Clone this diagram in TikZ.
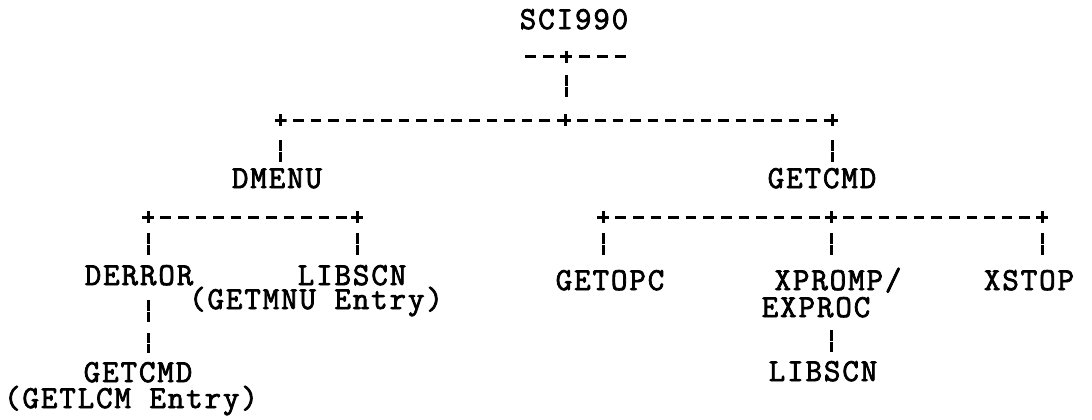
\documentclass[tikz,border=0pt]{standalone}
\usepackage{fontspec}
\newfontfamily\tw{Latin Modern Mono}[FakeBold=2.4,LetterSpace=6]
\begin{document}
\begin{tikzpicture}[x=0.5pt,y=-0.5pt,
  lbl/.style={font=\tw\fontsize{16pt}{16pt}\selectfont, inner sep=0pt, anchor=base},
  jn/.style={minimum size=6pt, inner sep=0pt,
    path picture={\draw[line width=1.5pt]
      (path picture bounding box.north) -- (path picture bounding box.south)
      (path picture bounding box.west) -- (path picture bounding box.east);}},
  hrow/.style={line width=1.5pt, dash pattern=on 5.3pt off 3.5pt, dash phase=2.65pt},
  stub/.style={line width=1.5pt, dash pattern=on 5.5pt off 3.5pt, dash phase=2.75pt},
  bar/.style={line width=1.5pt, dash pattern=on 5.25pt off 0.6pt on 5.15pt off 60pt},
  bartwo/.style={line width=1.5pt, dash pattern=on 5.25pt off 0.6pt on 5.15pt off 5.5pt on 5pt off 0.6pt on 4.4pt off 60pt}]
\useasboundingbox (0,0) rectangle (1092,419);

% level 0
\node[lbl] (sci) at (574,29) {SCI990};
\node[jn] (a0) at (566,56.7) {};
\coordinate (a0l) at (521,56.7);
\coordinate (a0r) at (628,56.7);
\draw[stub] (a0.center) -- (a0l);
\draw[stub] (a0.center) -- (a0r);

% level 1 row
\node[jn] (a1) at (280.7,120) {};
\node[jn] (a2) at (565,120) {};
\node[jn] (a3) at (832,120) {};
\draw[hrow] (a1.center) -- (a2.center);
\draw[hrow] (a2.center) -- (a3.center);
\draw[bar, shorten <=9.15pt] (a0.center) -- (a0.center |- a2.center);

\node[lbl] (dmenu) at (277,188) {DMENU};
\node[lbl] (getcmdA) at (822,188) {GETCMD};
\draw[bar, shorten <=10pt] (a1.center) -- (a1.center |- dmenu.base);
\draw[bar, shorten <=10pt] (a3.center) -- (a3.center |- getcmdA.base);

% level 2 rows
\node[jn] (b1) at (148,217) {};
\node[jn] (b2) at (357,217) {};
\draw[hrow] (b1.center) -- (b2.center);

\node[jn] (c1) at (603,217) {};
\node[jn] (c2) at (831,217) {};
\node[jn] (c3) at (1042,217) {};
\draw[hrow] (c1.center) -- (c2.center);
\draw[hrow] (c2.center) -- (c3.center);

\node[lbl] (derror) at (139,285) {DERROR};
\node[lbl] (libscnA) at (352,285) {LIBSCN};
\node[lbl] (getmnu) at (316,309) {(GETMNU Entry)};
\node[lbl] (getopc) at (610,290) {GETOPC};
\node[lbl] (xpromp) at (838,290) {XPROMP/};
\node[lbl] (exproc) at (816,317) {EXPROC};
\node[lbl] (xstop) at (1029,290) {XSTOP};

\draw[bar, shorten <=8pt] (b1.center) -- (b1.center |- derror.base);
\draw[bar, shorten <=8pt] (b2.center) -- (b2.center |- libscnA.base);
\draw[bar, shorten <=8pt] (c1.center) -- (c1.center |- getopc.base);
\draw[bar, shorten <=8pt] (c2.center) -- (c2.center |- xpromp.base);
\draw[bar, shorten <=8pt] (c3.center) -- (c3.center |- xstop.base);

% level 3
\node[lbl] (getcmdB) at (138,382) {GETCMD};
\node[lbl] (getlcm) at (131,408) {(GETLCM Entry)};
\node[lbl] (libscnB) at (823,381) {LIBSCN};

\draw[bartwo, shorten <=7.5pt] (b1 |- derror.base) -- (b1 |- getcmdB.base);
\draw[bar, shorten <=6.5pt] (c2 |- exproc.base) -- (c2 |- libscnB.base);
\end{tikzpicture}
\end{document}
